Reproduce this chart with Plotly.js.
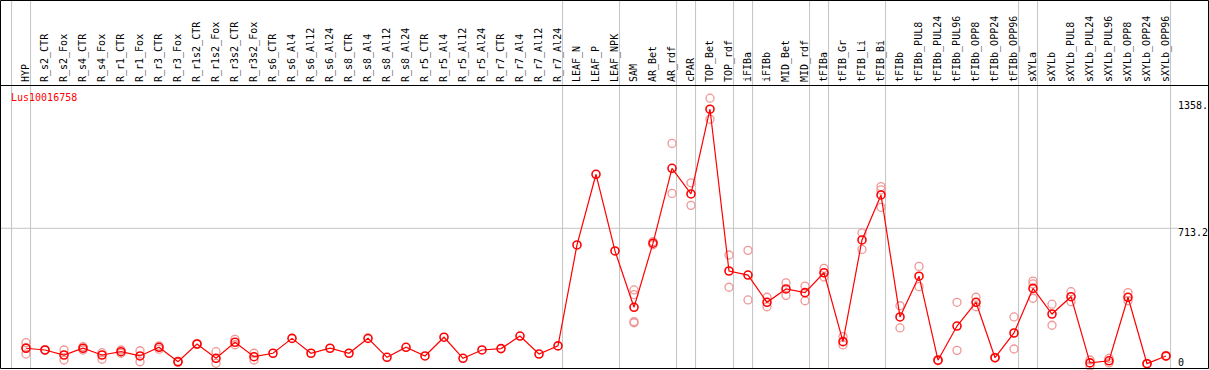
<!DOCTYPE html>
<html>
<head>
<meta charset="utf-8">
<script src="https://cdn.plot.ly/plotly-3.0.1.min.js"></script>
<style>
  html, body { margin: 0; padding: 0; background: #ffffff; }
  #chart { width: 1209px; height: 370px; }
</style>
</head>
<body>
<div id="chart"></div>
<script>
const geneName = "Lus10016758";

const categories = [
  "HYP","R_s2_CTR","R_s2_Fox","R_s4_CTR","R_s4_Fox","R_r1_CTR","R_r1_Fox","R_r3_CTR","R_r3_Fox",
  "R_r1s2_CTR","R_r1s2_Fox","R_r3s2_CTR","R_r3s2_Fox","R_s6_CTR","R_s6_Al4","R_s6_Al12","R_s6_Al24",
  "R_s8_CTR","R_s8_Al4","R_s8_Al12","R_s8_Al24","R_r5_CTR","R_r5_Al4","R_r5_Al12","R_r5_Al24",
  "R_r7_CTR","R_r7_Al4","R_r7_Al12","R_r7_Al24","LEAF_N","LEAF_P","LEAF_NPK","SAM","AR_Bet","AR_rdf",
  "cPAR","TOP_Bet","TOP_rdf","iFIBa","iFIBb","MID_Bet","MID_rdf","tFIBa","tFIB_Gr","tFIB_Li","tFIB_Bi",
  "tFIBb","tFIBb_PUL8","tFIBb_PUL24","tFIBb_PUL96","tFIBb_OPP8","tFIBb_OPP24","tFIBb_OPP96",
  "sXYLa","sXYLb","sXYLb_PUL8","sXYLb_PUL24","sXYLb_PUL96","sXYLb_OPP8","sXYLb_OPP24","sXYLb_OPP96"
];

const meanValues = [
  92, 83, 57, 92, 57, 74, 52, 97, 22,
  114, 40, 123, 48, 66, 143, 66, 92,
  66, 143, 45, 97, 52, 149, 40, 83,
  90, 155, 62, 104, 627, 993, 596, 304, 636, 1024,
  891, 1330, 492, 471, 330, 399, 380, 483, 126, 653, 886,
  254, 465, 30, 207, 330, 43, 171,
  402, 269, 359, 16, 27, 356, 12, 52
];

const repA = [
  121, 85, 83, 100, 69, 83, 79, 104, 25,
  116, 74, 138, 66, null, null, null, null,
  null, null, null, null, null, null, null, null,
  null, null, null, null, null, null, null, 394, 644, 1153,
  949, 1387, 575, 599, 356, 431, 414, 506, 152, 690, 929,
  312, 516, 33, 330, 356, 45, 254,
  440, 320, 385, 31, 40, 380, 14, 55
];
const repB = [
  95, 81, 31, 83, 35, 66, 22, 87, 19,
  112, 14, 110, 31, null, null, null, null,
  null, null, null, null, null, null, null, null,
  null, null, null, null, null, null, null, 370, 628, 894,
  832, 1278, 408, 342, 307, 366, 338, 461, 109, 604, 912,
  197, 411, 27, 81, 307, 41, 88,
  425, 211, 333, 0, 16, 338, 10, 49
];
const repC = [
  62, null, null, null, null, null, null, null, null,
  null, null, null, null, null, null, null, null,
  null, null, null, null, null, null, null, null,
  null, null, null, null, null, null, null, 230, null, null,
  null, null, null, null, null, null, null, null, null, null, 822,
  null, null, null, null, null, null, null,
  351, null, null, null, null, null, null, null
];
const repD = [
  null, null, null, null, null, null, null, null, null,
  null, null, null, null, null, null, null, null,
  null, null, null, null, null, null, null, null,
  null, null, null, null, null, null, null, 224, null, null,
  null, null, null, null, null, null, null, null, null, null, null,
  null, null, null, null, null, null, null,
  null, null, null, null, null, null, null, null
];

// indices of the last category in each group (separator drawn after it)
const groupEnds = [-1, 0, 28, 31, 34, 35, 37, 38, 41, 42, 45, 52, 53, 60];

const axisLabels = [
  { text: "1358.", value: 1358 },
  { text: "713.2", value: 713.2 },
  { text: "0", value: 0 }
];

const W = 1209, H = 370;
const FONT = "DejaVu Sans Mono, monospace";
const idx = categories.map((_, i) => i);

const repX = [], repY = [];
[repA, repB, repC, repD].forEach(arr => {
  arr.forEach((v, i) => { if (v !== null) { repX.push(i); repY.push(v); } });
});

const traces = [
  {
    type: "scatter", mode: "markers", x: repX, y: repY,
    marker: { symbol: "circle-open", size: 8, color: "rgb(240,150,150)", line: { width: 1.3, color: "rgb(240,150,150)" } },
    cliponaxis: false, hoverinfo: "skip", showlegend: false
  },
  {
    type: "scatter", mode: "lines+markers", x: idx, y: meanValues,
    line: { color: "#ff0000", width: 1.2 },
    marker: { symbol: "circle-open", size: 8, color: "#ff0000", line: { width: 1.6, color: "#ff0000" } },
    cliponaxis: false, showlegend: false
  }
];

const shapes = [];
groupEnds.forEach(g => {
  shapes.push({ type: "line", xref: "x", yref: "paper", x0: g + 0.24, x1: g + 0.24,
    y0: 1 - 368 / H, y1: 1 - 1 / H, line: { color: "#c4c4c4", width: 1 }, layer: "below" });
});
shapes.push({ type: "line", xref: "paper", yref: "y", x0: 1 / W, x1: 1178 / W, y0: axisLabels[1].value, y1: axisLabels[1].value,
  line: { color: "#c4c4c4", width: 1 }, layer: "below" });
shapes.push({ type: "line", xref: "paper", yref: "paper", x0: 0, x1: 1, y0: 1 - 85.5 / H, y1: 1 - 85.5 / H,
  line: { color: "#000000", width: 1 }, layer: "above" });
shapes.push({ type: "rect", xref: "paper", yref: "paper", x0: 0.5 / W, x1: 1208.5 / W, y0: 1 - 368.5 / H, y1: 1 - 0.5 / H,
  line: { color: "#000000", width: 1 }, layer: "above" });

const annotations = [
  { text: geneName, xref: "paper", yref: "paper", x: 9 / W, y: 1 - 97.5 / H, xanchor: "left", yanchor: "middle",
    showarrow: false, font: { family: FONT, size: 10, color: "#ff0000" } }
];
const labelY = [105, 232, 362];
axisLabels.forEach((a, k) => {
  annotations.push({ text: a.text, xref: "paper", yref: "paper", x: 1176 / W, y: 1 - labelY[k] / H,
    xanchor: "left", yanchor: "middle", showarrow: false, font: { family: FONT, size: 10, color: "#000000" } });
});

const layout = {
  width: W, height: H,
  margin: { l: 0, r: 0, t: 0, b: 0, pad: 0 },
  paper_bgcolor: "#ffffff", plot_bgcolor: "#ffffff",
  showlegend: false,
  xaxis: {
    domain: [1 / W, 1208 / W],
    range: [-25 / 19, -25 / 19 + 1207 / 19],
    tickmode: "array", tickvals: idx, ticktext: categories,
    side: "top", tickangle: -90, ticks: "", ticklabelstandoff: 2,
    showgrid: false, zeroline: false, showline: false,
    tickfont: { family: FONT, size: 10, color: "#000000" }
  },
  yaxis: {
    domain: [2 / H, 285 / H],
    range: [-2 / 0.19307, 281 / 0.19307],
    showgrid: false, zeroline: false, showline: false, showticklabels: false, ticks: ""
  },
  shapes: shapes,
  annotations: annotations
};

Plotly.newPlot("chart", traces, layout, { displayModeBar: false, staticPlot: true });
</script>
</body>
</html>
